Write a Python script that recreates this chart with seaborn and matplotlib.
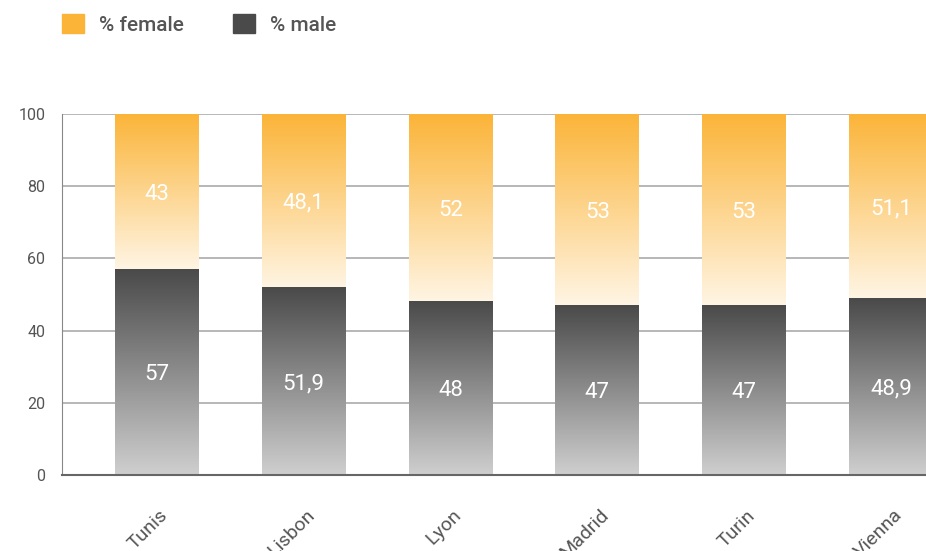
import numpy as np, pandas as pd, matplotlib
matplotlib.use('Agg')
import matplotlib.pyplot as plt
import seaborn as sns
from matplotlib.colors import LinearSegmentedColormap
from matplotlib.patches import Patch
import matplotlib.transforms as mtransforms

### data ###
cities = ['Tunis', 'Lisbon', 'Lyon', 'Madrid', 'Turin', 'Vienna']
female = [43, 48.1, 52, 53, 53, 51.1]
male = [57, 51.9, 48, 47, 47, 48.9]

df = pd.DataFrame({'city': cities, 'female': female, 'male': male})
df['total'] = df['female'] + df['male']

sns.set_style('white')
plt.rcParams['font.family'] = ['Roboto', 'DejaVu Sans']

fig = plt.figure(figsize=(9.26, 5.51), dpi=100)
ax = fig.add_axes([62/926, 1-475/551, 1-62/926, (475-114)/551])

sns.barplot(data=df, x='city', y='total', color='#FBB438', width=0.571, ax=ax)
sns.barplot(data=df, x='city', y='male', color='#4a4a4a', width=0.571, ax=ax)

cm_f = LinearSegmentedColormap.from_list('f', ['#FFF5E4', '#FBB438'])
cm_m = LinearSegmentedColormap.from_list('m', ['#cfcfcf', '#4a4a4a'])
grad = np.linspace(0, 1, 256).reshape(-1, 1)

n = len(cities)
for i, p in enumerate(ax.patches[:2*n]):
    x0, w = p.get_x(), p.get_width()
    p.set_visible(False)
    j = i % n
    if i < n:  # female segment sits on top of male
        y0, y1, cm = male[j], p.get_height(), cm_f
    else:
        y0, y1, cm = 0, p.get_height(), cm_m
    ax.imshow(grad, extent=[x0, x0+w, y0, y1], origin='lower', aspect='auto',
              cmap=cm, zorder=2, interpolation='bicubic')
    val = female[j] if i < n else male[j]
    ax.text(x0 + w/2, (y0+y1)/2, f'{val:g}'.replace('.', ','), color='white',
            ha='center', va='center_baseline', fontsize=16, zorder=3)

ax.set_xlim(-0.646, 5.238)
ax.set_ylim(0, 100)
ax.set_yticks([0, 20, 40, 60, 80, 100])
ax.yaxis.grid(True, color='#aaaaaa', lw=1.2, zorder=0)
ax.set_axisbelow(True)
for s in ['top', 'right']:
    ax.spines[s].set_visible(False)
ax.spines['left'].set_color('#888888')
ax.spines['bottom'].set_color('#666666')
ax.spines['bottom'].set_linewidth(1.5)
ax.set_xlabel('')
ax.set_ylabel('')
ax.tick_params(axis='y', length=0, pad=12, labelsize=11.5, labelcolor='#555555')
ax.tick_params(axis='x', length=0, pad=27, labelsize=14, labelcolor='#555555')
plt.setp(ax.get_xticklabels(), rotation=45, ha='right', rotation_mode='anchor', va='center')
offset = mtransforms.ScaledTranslation(6/72, 0, fig.dpi_scale_trans)
for lab in ax.get_xticklabels():
    lab.set_transform(lab.get_transform() + offset)

handles = [Patch(color='#FBB438', label='% female'), Patch(color='#4a4a4a', label='% male')]
fig.legend(handles=handles, loc='upper left', bbox_to_anchor=(43/926, 1+5/551), ncol=2,
           frameon=False, handlelength=1.06, handleheight=1.06,
           handletextpad=0.72, columnspacing=2.35,
           prop={'weight': 'medium', 'size': 15}, labelcolor='#555555')

plt.savefig('out.png', dpi=100)
